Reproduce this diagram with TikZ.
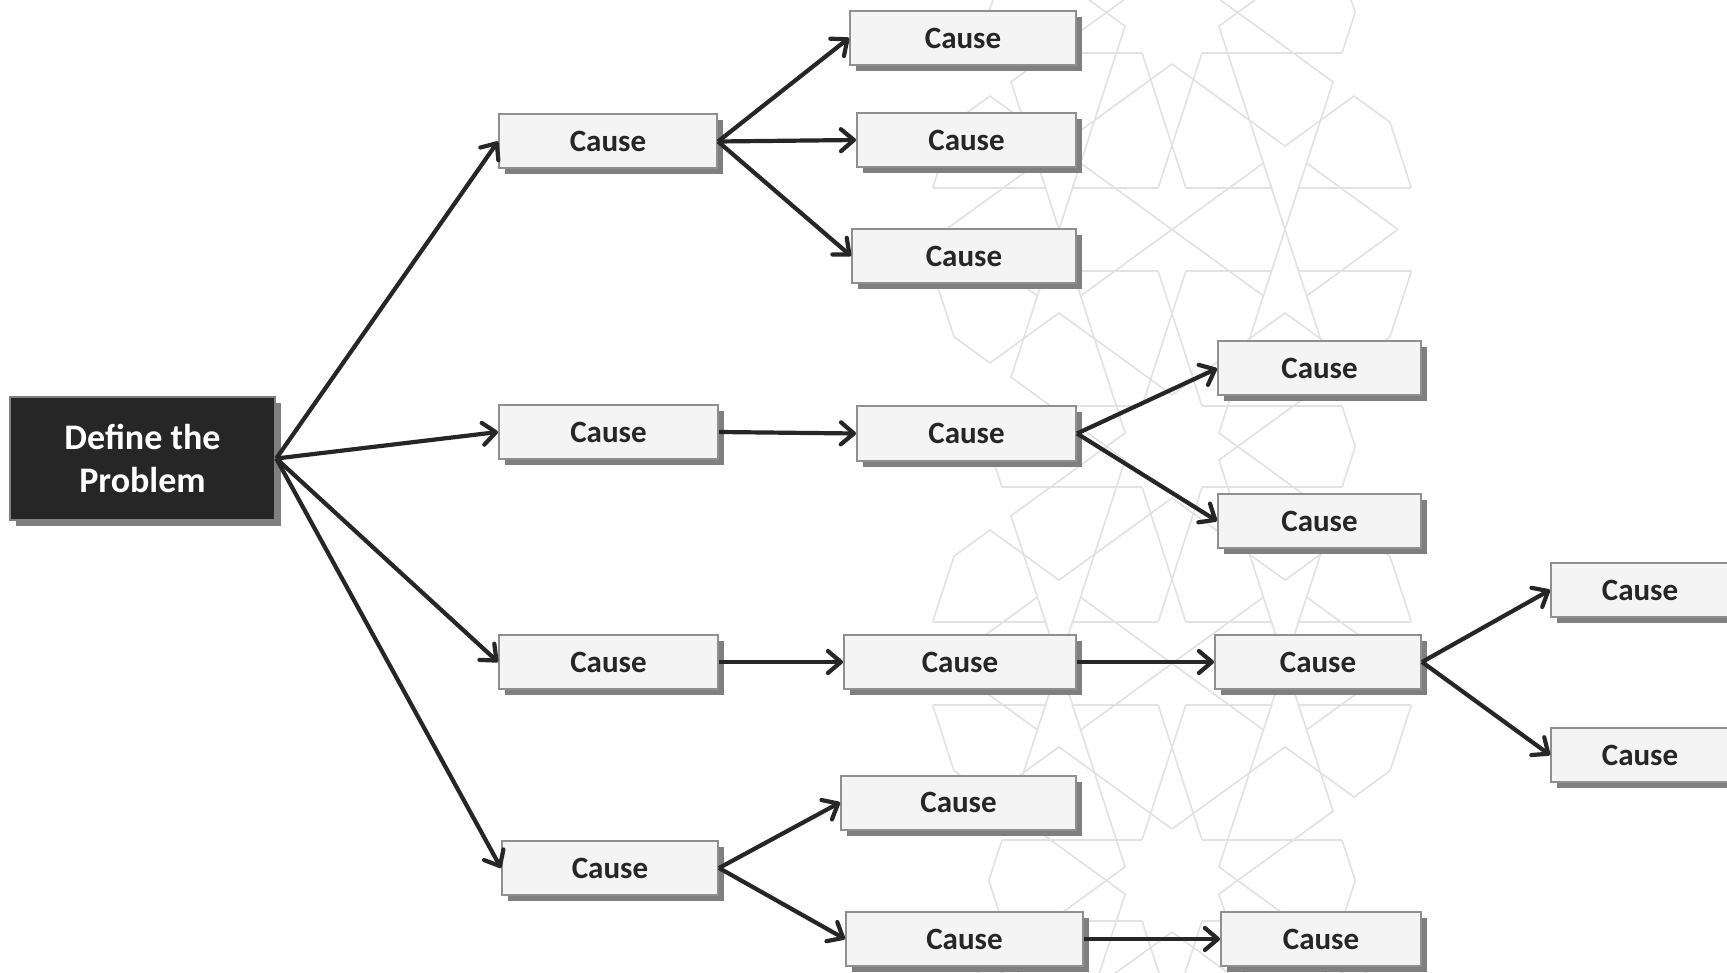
\documentclass[tikz,border=0pt]{standalone}
\usepackage{fontspec}
\setmainfont{Carlito}
\usetikzlibrary{arrows.meta,shadows}
\definecolor{dark}{HTML}{262626}
\definecolor{boxfill}{HTML}{F4F4F4}
\definecolor{boxline}{HTML}{8F8F8F}
\definecolor{shade}{HTML}{7F7F7F}
\definecolor{patline}{HTML}{E2E2E2}
\tikzset{
 causebox/.style={draw=boxline, line width=2pt, fill=boxfill, minimum height=54pt, inner sep=0pt, text=dark,
   font=\fontsize{31}{37}\selectfont\bfseries,
   general shadow={fill=shade, shadow xshift=6pt, shadow yshift=-6pt}},
 probbox/.style={draw=shade, line width=2.5pt, fill=dark, text=white, align=center,
   font=\fontsize{36}{43}\selectfont\bfseries, minimum width=265pt, minimum height=123pt, inner sep=0pt,
   general shadow={fill=shade, shadow xshift=6pt, shadow yshift=-6pt}},
 arr/.style={draw=dark, line width=4.2pt, -{Straight Barb[length=13pt,width=22pt,round]}},
 patt/.style={draw=patline, line width=1.6pt},
}
\newcommand{\bgmotif}{%
 \draw[patt] (30,0) -- (170,0);
 \draw[patt] (30,0) -- (-13.86,135);
 \draw[patt] (0,11) -- (113,93.1) -- (182,43) -- (218,69.2) -- (239.4,135);
 \draw[patt] (13.86,135) -- (99.5,135);
 \draw[patt] (126.5,135) -- (239.4,135);
 \draw[patt] (99.5,135) -- (113,176.5) -- (126.5,135);
 \draw[patt] (126.5,135) -- (161,28.8) -- (65.6,-40.5);
 \draw[patt] (99.5,135) -- (46.9,-26.9) -- (65.6,-40.5);
 \draw[patt] (91.4,110.1) -- (0,176.5);
 \draw[patt] (134.6,110.1) -- (226,176.5);
 \draw[patt] (170,0) -- (183.2,-40.5);
}
\begin{document}
\begin{tikzpicture}[x=1pt,y=-1pt]
\useasboundingbox (0,0) rectangle (1727,973);
\fill[white] (0,0) rectangle (1727,973);
\begin{scope}
\clip (0,0) rectangle (1727,973);
\foreach \k in {-1,0,1,2} {
 \foreach \s in {1,-1} {
  \begin{scope}[shift={(1172,53+434*\k)}, xscale=\s] \bgmotif \end{scope}
  \begin{scope}[shift={(1172,53+434*\k)}, xscale=\s, shift={(0,353)}, yscale=-1] \bgmotif \end{scope}
 }
}
\end{scope}

\node[probbox] (prob) at (142.5,458.5) {Define the\\Problem};

\node[causebox, minimum width=218pt] (c1a) at (608,141.5) {Cause};
\node[causebox, minimum width=219pt] (c1b) at (608.5,432) {Cause};
\node[causebox, minimum width=219pt] (c1c) at (608.5,662) {Cause};
\node[causebox, minimum width=216pt] (c1d) at (610,868) {Cause};

\node[causebox, minimum width=226pt] (c2a) at (963,38) {Cause};
\node[causebox, minimum width=219pt] (c2b) at (966.5,140) {Cause};
\node[causebox, minimum width=224pt] (c2c) at (964,256) {Cause};
\node[causebox, minimum width=219pt] (c2d) at (966.5,433.5) {Cause};
\node[causebox, minimum width=232pt] (c2e) at (960,662) {Cause};
\node[causebox, minimum width=235pt] (c2f) at (958.5,802.5) {Cause};
\node[causebox, minimum width=237pt] (c2g) at (964.5,939) {Cause};

\node[causebox, minimum width=203pt] (c3a) at (1319.5,368.5) {Cause};
\node[causebox, minimum width=203pt] (c3b) at (1319.5,521) {Cause};
\node[causebox, minimum width=206pt] (c3c) at (1318,662) {Cause};
\node[causebox, minimum width=200pt] (c3d) at (1321,939) {Cause};

\node[causebox, minimum width=178pt] (c4a) at (1640,590) {Cause};
\node[causebox, minimum width=178pt] (c4b) at (1640,755) {Cause};

\draw[arr] (prob.east) -- (c1a.west);
\draw[arr] (prob.east) -- (c1b.west);
\draw[arr] (prob.east) -- (c1c.west);
\draw[arr] (prob.east) -- (c1d.west);
\draw[arr] (c1a.east) -- (c2a.west);
\draw[arr] (c1a.east) -- (c2b.west);
\draw[arr] (c1a.east) -- (c2c.west);
\draw[arr] (c1b.east) -- (c2d.west);
\draw[arr] (c2d.east) -- (c3a.west);
\draw[arr] (c2d.east) -- (c3b.west);
\draw[arr] (c1c.east) -- (c2e.west);
\draw[arr] (c2e.east) -- (c3c.west);
\draw[arr] (c3c.east) -- (c4a.west);
\draw[arr] (c3c.east) -- (c4b.west);
\draw[arr] (c1d.east) -- (c2f.west);
\draw[arr] (c1d.east) -- (c2g.west);
\draw[arr] (c2g.east) -- (c3d.west);
\end{tikzpicture}
\end{document}
